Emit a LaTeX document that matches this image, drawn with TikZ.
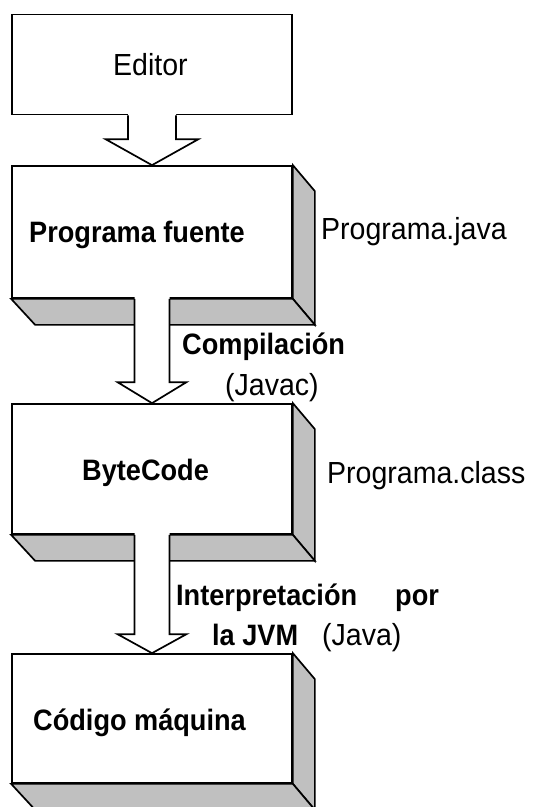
\documentclass[tikz,border=0pt]{standalone}
\usepackage{fontspec}
\setmainfont{Liberation Sans}[FakeStretch=0.92]
\newfontfamily\regfont{Liberation Sans}[FakeStretch=0.935]
\usetikzlibrary{calc,backgrounds}
\definecolor{shade}{RGB}{192,192,192}
\tikzset{
  frontbox/.style={draw=black, fill=white, line width=1.7pt, rectangle, inner sep=0pt},
  sideface/.style={draw=black, fill=shade, line width=1.7pt, line join=miter},
  bigarrow/.style={draw=black, line width=1.7pt, line join=miter},
  lbl/.style={inner sep=0pt, anchor=base west, font=\regfont\fontsize{30.5}{34}\selectfont},
  blbl/.style={inner sep=0pt, anchor=base west, font=\fontsize{29.5}{34}\selectfont\bfseries}
}
\newcommand\extrude[1]{%
  \begin{pgfonlayer}{background}
  \path[sideface] (#1.north east) -- ($(#1.north east)+(22,26)$) -- ($(#1.south east)+(22,26)$) -- (#1.south east) -- cycle;
  \path[sideface] (#1.south west) -- ($(#1.south west)+(24,26)$) -- ($(#1.south east)+(22,26)$) -- (#1.south east) -- cycle;
  \end{pgfonlayer}
}
% #1 upper node, #2 lower node, #3 half stem width, #4 half head width, #5 head length
\newcommand\fatarrow[5]{%
  \fill[white] ($(#1.south)+(-#3,-2)$) -- ($(#2.north)+(-#3,-#5)$) -- ($(#2.north)+(-#4,-#5)$) -- (#2.north)
     -- ($(#2.north)+(#4,-#5)$) -- ($(#2.north)+(#3,-#5)$) -- ($(#1.south)+(#3,-2)$) -- cycle;
  \draw[bigarrow] ($(#1.south)+(-#3,0)$) -- ($(#2.north)+(-#3,-#5)$) -- ($(#2.north)+(-#4,-#5)$) -- (#2.north)
     -- ($(#2.north)+(#4,-#5)$) -- ($(#2.north)+(#3,-#5)$) -- ($(#1.south)+(#3,0)$);
}
\begin{document}
\begin{tikzpicture}[x=1pt,y=-1pt]
\useasboundingbox (0,0) rectangle (536,807);
% boxes (front faces)
\node[frontbox, minimum width=280pt, minimum height=100pt] (editor) at (152,64.5) {};
\node[frontbox, minimum width=280pt, minimum height=132pt] (fuente) at (152,232) {};
\node[frontbox, minimum width=280pt, minimum height=130pt] (byte) at (152,469) {};
\node[frontbox, minimum width=280pt, minimum height=129pt] (codigo) at (152,718.5) {};
% 3-D faces
\extrude{fuente}
\extrude{byte}
\extrude{codigo}
% block arrows
\fatarrow{editor}{fuente}{24}{46.5}{26}
\fatarrow{fuente}{byte}{17.5}{34.5}{21}
\fatarrow{byte}{codigo}{17.5}{34.5}{19}
% texts
\node[lbl] (teditor) at (113,75) {Editor};
\node[blbl] (tfuente) at (29,242) {Programa fuente};
\node[lbl] (tjava) at (321,239) {Programa.java};
\node[blbl] (tcomp) at (182,354) {Compilación};
\node[lbl] (tjavac) at (225,395) {(Javac)};
\node[blbl] (tbyte) at (82,480) {ByteCode};
\node[lbl] (tclass) at (327,483) {Programa.class};
\node[blbl] (tinter) at (176,605) {Interpretación};
\node[blbl] (tpor) at (395,605) {por};
\node[blbl] (tjvm) at (212,645) {la JVM};
\node[lbl] (tjavai) at (322,645) {(Java)};
\node[blbl] (tcodigo) at (33,730) {Código máquina};
\end{tikzpicture}
\end{document}
